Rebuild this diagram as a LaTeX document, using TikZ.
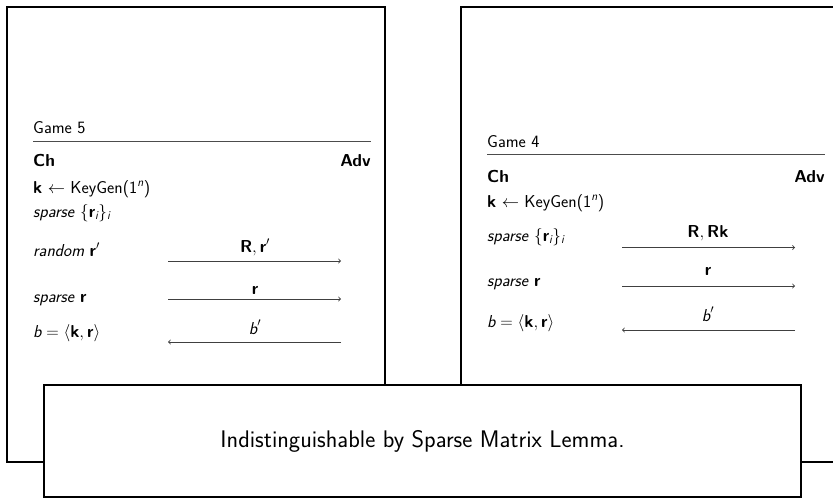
\documentclass[tikz,border=0pt]{standalone}
\usepackage{amsmath}
\usepackage{fontspec}
\newcommand\fsz{\fontsize{17.28}{20}\selectfont\sffamily}
\newcommand\vb[1]{\textbf{#1}}
\newcommand\vi[1]{\textit{#1}}
\begin{document}
\begin{tikzpicture}[x=1pt,y=-1pt,
  txt/.style={anchor=base west, inner sep=0pt, font=\fsz},
  txtr/.style={anchor=base east, inner sep=0pt, font=\fsz},
  lbl/.style={anchor=base, inner sep=0pt, font=\fsz},
  frame/.style={draw=black, line width=1.7pt},
  gamerule/.style={draw=black!70, line width=1pt},
  msg/.style={draw=black!75, line width=0.9pt, -to}]
\useasboundingbox (0,0) rectangle (833,499);
\clip (0,0) rectangle (833,499);
% left box
\draw[frame, fill=white] (7,7) rectangle (385,462);
\node[txt] (g5) at (33,133) {Game 5};
\coordinate (r5a) at (33,141); \coordinate (r5b) at (371,141);
\draw[gamerule] (r5a) -- (r5b);
\node[txt] (ch5) at (33,166) {\bfseries Ch};
\node[txtr] (adv5) at (371,166) {\bfseries Adv};
\node[txt] (kg5) at (33,193) {\vb{k} $\leftarrow$ KeyGen(1$^{\vi{n}}$)};
\node[txt] (sp5) at (33,217) {\vi{sparse} $\{\vb{r}_{\vi{i}}\}_{\vi{i}}$};
\node[txt] (rnd5) at (33,256) {\vi{random} $\vb{r}'$};
\node[txt] (spr5) at (33,302) {\vi{sparse} \vb{r}};
\node[txt] (b5) at (33,337) {$\vi{b} = \langle\vb{k}, \vb{r}\rangle$};
\coordinate (a1s) at (168,261); \coordinate (a1e) at (341,261);
\draw[msg] (a1s) -- (a1e);
\node[lbl] (l1) at (255,252) {$\vb{R}, \vb{r}'$};
\coordinate (a2s) at (168,299); \coordinate (a2e) at (341,299);
\draw[msg] (a2s) -- (a2e);
\node[lbl] (l2) at (255,294) {\vb{r}};
\coordinate (a3s) at (341,342); \coordinate (a3e) at (168,342);
\draw[msg] (a3s) -- (a3e);
\node[lbl] (l3) at (255,334) {$\vi{b}'$};
% right box
\draw[frame, fill=white] (461,7) rectangle (850,462);
\node[txt] (g4) at (487,147) {Game 4};
\coordinate (r4a) at (487,154); \coordinate (r4b) at (825,154);
\draw[gamerule] (r4a) -- (r4b);
\node[txt] (ch4) at (487,182) {\bfseries Ch};
\node[txtr] (adv4) at (825,182) {\bfseries Adv};
\node[txt] (kg4) at (487,207) {\vb{k} $\leftarrow$ KeyGen(1$^{\vi{n}}$)};
\node[txt] (sp4) at (487,241) {\vi{sparse} $\{\vb{r}_{\vi{i}}\}_{\vi{i}}$};
\node[txt] (spr4) at (487,286) {\vi{sparse} \vb{r}};
\node[txt] (b4) at (487,327) {$\vi{b} = \langle\vb{k}, \vb{r}\rangle$};
\coordinate (c1s) at (622,247.5); \coordinate (c1e) at (795,247.5);
\draw[msg] (c1s) -- (c1e);
\node[lbl] (m1) at (708,237.5) {$\vb{R}, \vb{Rk}$};
\coordinate (c2s) at (622,286); \coordinate (c2e) at (795,286);
\draw[msg] (c2s) -- (c2e);
\node[lbl] (m2) at (708,275) {\vb{r}};
\coordinate (c3s) at (795,330); \coordinate (c3e) at (622,330);
\draw[msg] (c3s) -- (c3e);
\node[lbl] (m3) at (708,321) {$\vi{b}'$};
% bottom box
\draw[frame, fill=white] (44,385) rectangle (801,497);
\node[lbl, anchor=center, font=\fontsize{24}{28}\selectfont\sffamily] (ind) at (422.5,441) {Indistinguishable by Sparse Matrix Lemma.};
\end{tikzpicture}
\end{document}
